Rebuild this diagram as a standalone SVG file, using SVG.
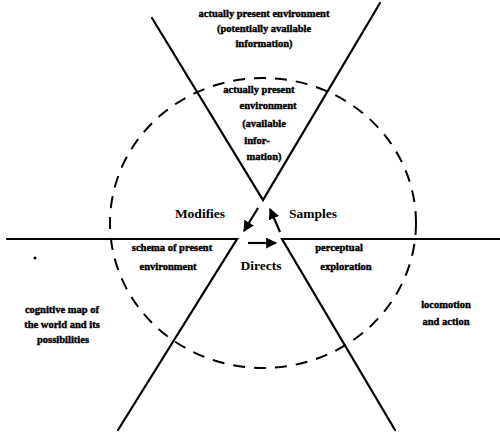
<svg xmlns="http://www.w3.org/2000/svg" width="500" height="434" viewBox="0 0 500 434">
<defs>
<marker id="ah" viewBox="0 0 10 10" refX="9" refY="5" markerWidth="5" markerHeight="5" orient="auto">
<path d="M0,0 L10,5 L0,10 z" fill="#000"/>
</marker>
<style>
.ln{stroke:#000;stroke-width:2.2;fill:none;stroke-linecap:round}
.dash{stroke:#000;stroke-width:2;fill:none;stroke-dasharray:12 9}
.t{font-family:"Liberation Serif",serif;font-weight:bold;font-size:10.5px;fill:#000;stroke:#000;stroke-width:0.4;text-anchor:middle}
.b{font-family:"Liberation Serif",serif;font-weight:bold;font-size:13.5px;fill:#000;text-anchor:middle}
.ar{stroke:#000;stroke-width:2.2;fill:none;marker-end:url(#ah)}
</style>
</defs>
<rect width="500" height="434" fill="#fff"/>
<g id="frame">
<path class="ln" d="M152,18 L263,200 L380,3"/>
<path class="ln" d="M7,239 L237,239 L118,430"/>
<path class="ln" d="M500,239 L282,239 L395,430"/>
</g>
<g id="cycle">
<ellipse class="dash" cx="263" cy="223" rx="153" ry="145"/>
</g>
<g id="top-outer">
<text class="t" x="264" y="17">actually present environment</text>
<text class="t" x="264" y="32">(potentially available</text>
<text class="t" x="264" y="47">information)</text>
</g>
<g id="top-inner">
<text class="t" x="259" y="93">actually present</text>
<text class="t" x="268" y="109">environment</text>
<text class="t" x="264" y="127">(available</text>
<text class="t" x="257" y="144">infor-</text>
<text class="t" x="264" y="160">mation)</text>
</g>
<g id="schema">
<text class="t" x="172" y="251">schema of present</text>
<text class="t" x="168" y="270">environment</text>
</g>
<g id="exploration">
<text class="t" x="339" y="251">perceptual</text>
<text class="t" x="346" y="270">exploration</text>
</g>
<g id="cogmap">
<text class="t" x="62" y="313">cognitive map of</text>
<text class="t" x="62" y="328">the world and its</text>
<text class="t" x="63" y="343">possibilities</text>
<circle cx="35" cy="258" r="1.5" fill="#000"/>
</g>
<g id="locomotion">
<text class="t" x="446" y="308">locomotion</text>
<text class="t" x="446" y="325">and action</text>
</g>
<g id="labels">
<text class="b" x="200" y="218">Modifies</text>
<text class="b" x="313" y="218">Samples</text>
<text class="b" x="261" y="270">Directs</text>
</g>
<g id="connectors">
<line class="ar" x1="258" y1="208" x2="244" y2="231"/>
<line class="ar" x1="280" y1="232" x2="270" y2="209"/>
<line class="ar" x1="248" y1="243" x2="276" y2="243"/>
</g>
</svg>
